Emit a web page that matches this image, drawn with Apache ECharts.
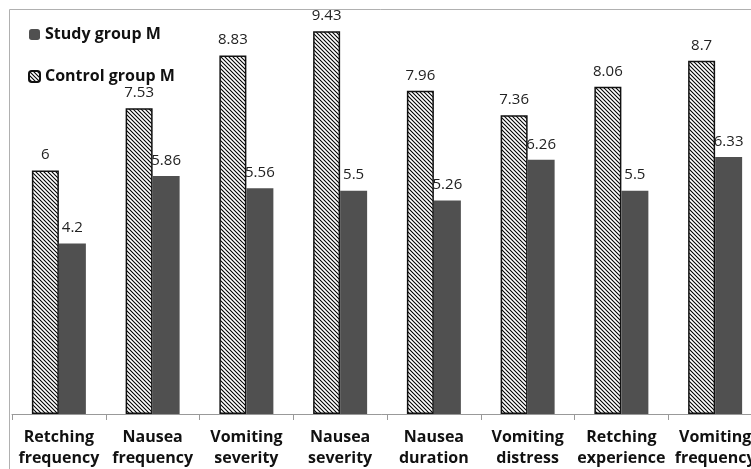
<!DOCTYPE html>
<html>
<head>
<meta charset="utf-8">
<script src="https://cdn.jsdelivr.net/npm/echarts@6/dist/echarts.min.js"></script>
<style>html,body{margin:0;padding:0;background:#fff}#c{width:751px;height:469px}</style>
</head>
<body>
<div id="c"></div>
<script>
var categories = ['Retching\nfrequency','Nausea\nfrequency','Vomiting\nseverity','Nausea\nseverity','Nausea\nduration','Vomiting\ndistress','Retching\nexperience','Vomiting\nfrequency'];
var controlValues = [6, 7.53, 8.83, 9.43, 7.96, 7.36, 8.06, 8.7];
var studyValues = [4.2, 5.86, 5.56, 5.5, 5.26, 6.26, 5.5, 6.33];
var seriesNames = ['Control group M', 'Study group M'];

function hatch() {
  var s = 4;
  var c = document.createElement('canvas');
  c.width = s; c.height = s;
  var g = c.getContext('2d');
  g.fillStyle = '#fff'; g.fillRect(0, 0, s, s);
  g.strokeStyle = '#000'; g.lineWidth = 1.1;
  [-s, 0, s].forEach(function (k) {
    g.beginPath(); g.moveTo(k - 1, -1); g.lineTo(k + s + 1, s + 1); g.stroke();
  });
  return c;
}

var chart = echarts.init(document.getElementById('c'), null, {renderer: 'canvas'});
var labelStyle = {show: true, position: 'top', distance: 8, color: '#222', fontSize: 15, fontFamily: 'Open Sans'};
chart.setOption({
  animation: false,
  backgroundColor: '#fff',
  graphic: [{
    type: 'rect', silent: true, z: -1,
    shape: {x: 9.5, y: 9.5, width: 800, height: 600},
    style: {fill: 'none', stroke: '#b0b0b0', lineWidth: 1}
  }],
  grid: {left: 12, top: 8, bottom: 55, right: -11, containLabel: false, outerBoundsMode: 'none'},
  legend: {
    orient: 'vertical', left: 23, top: 20,
    itemWidth: 11, itemHeight: 11, itemGap: 23,
    data: [seriesNames[1], seriesNames[0]],
    textStyle: {fontSize: 16, fontWeight: 'bold', color: '#111', fontFamily: 'Open Sans', lineHeight: 19}
  },
  xAxis: {
    type: 'category', data: categories,
    axisLine: {lineStyle: {color: '#999', width: 1}},
    axisTick: {show: true, length: 6, lineStyle: {color: '#999'}},
    axisLabel: {interval: 0, margin: 13, fontSize: 16, fontWeight: 'bold', color: '#111', fontFamily: 'Open Sans', lineHeight: 21}
  },
  yAxis: {type: 'value', min: 0, max: 10, show: false, splitLine: {show: false}},
  series: [
    {name: seriesNames[0], type: 'bar', data: controlValues, barWidth: 27, barGap: '0%',
     itemStyle: {color: {image: hatch(), repeat: 'repeat'}, borderColor: '#111', borderWidth: 1.5},
     label: labelStyle},
    {name: seriesNames[1], type: 'bar', data: studyValues, barWidth: 27, barGap: '0%',
     itemStyle: {color: '#505050'},
     label: labelStyle}
  ]
});
</script>
</body>
</html>
